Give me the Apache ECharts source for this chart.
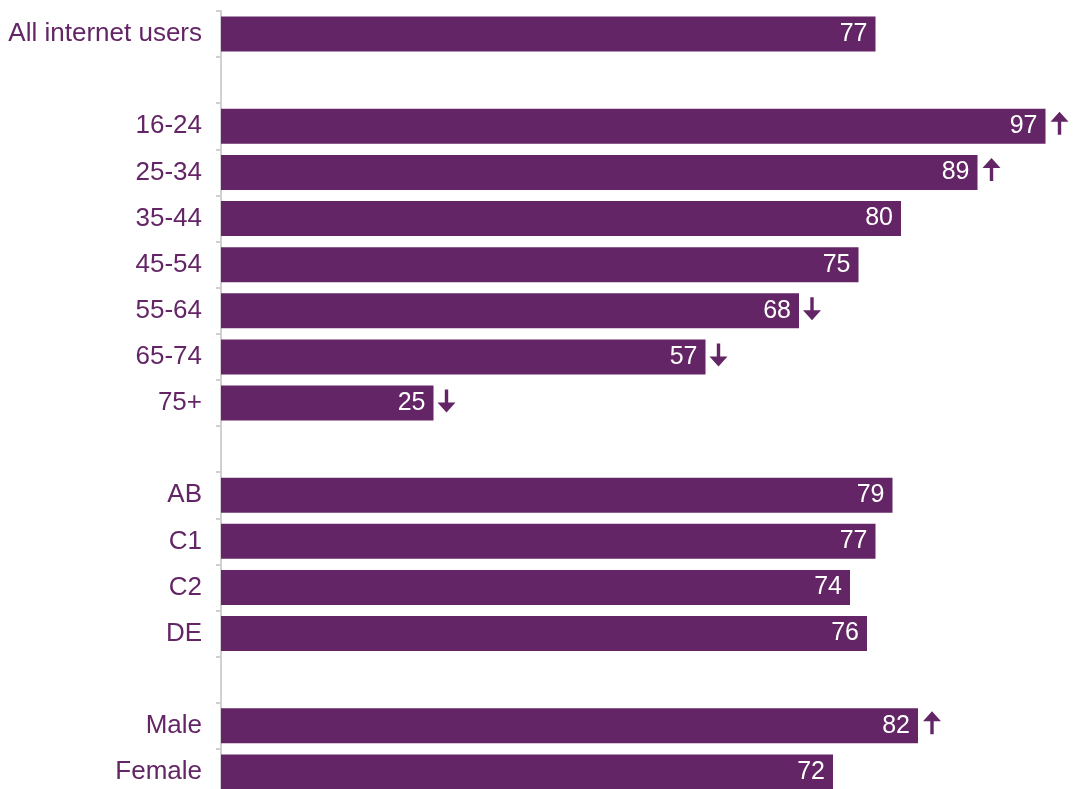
<!DOCTYPE html>
<html>
<head>
<meta charset="utf-8">
<script src="https://cdn.jsdelivr.net/npm/echarts@6/dist/echarts.min.js"></script>
<style>html,body{margin:0;padding:0;background:#fff}#c{width:1074px;height:789px}</style>
</head>
<body>
<div id="c"></div>
<script>
const categories = ['All internet users','', '16-24','25-34','35-44','45-54','55-64','65-74','75+','', 'AB','C1','C2','DE','', 'Male','Female'];
const values = [77, null, 97, 89, 80, 75, 68, 57, 25, null, 79, 77, 74, 76, null, 82, 72];
const significance = ['', '', 'up', 'up', '', '', 'down', 'down', 'down', '', '', '', '', '', '', 'up', ''];

const purple = '#632565';
const upPath = 'path://M9,0 L18,10 L10.7,10 L10.7,23 L7.3,23 L7.3,10 L0,10 Z';
const downPath = 'path://M9,23 L18,13 L10.7,13 L10.7,0 L7.3,0 L7.3,13 L0,13 Z';

const upData = [], downData = [];
significance.forEach((s, i) => {
  if (s === 'up') upData.push([values[i], i]);
  if (s === 'down') downData.push([values[i], i]);
});

const chart = echarts.init(document.getElementById('c'), null, {renderer: 'canvas'});
chart.setOption({
  animation: false,
  grid: {left: 221, width: 850, top: 11, height: 784, containLabel: false, outerBoundsMode: 'none'},
  xAxis: {type: 'value', min: 0, max: 100, show: false},
  yAxis: {
    type: 'category', data: categories, inverse: true,
    axisLine: {show: true, lineStyle: {color: '#d0d0d0', width: 2}},
    axisTick: {show: true, length: 5, lineStyle: {color: '#d0d0d0', width: 2}},
    axisLabel: {color: purple, fontSize: 26, fontFamily: 'Liberation Sans, Arial, sans-serif', margin: 19},
    splitLine: {show: false}
  },
  series: [
    {
      type: 'bar', data: values, barWidth: 35, itemStyle: {color: purple},
      label: {show: true, position: 'insideRight', distance: 8, color: '#fff', fontSize: 25, fontFamily: 'Liberation Sans, Arial, sans-serif'},
      z: 2
    },
    {
      type: 'scatter', data: upData, symbol: upPath, symbolSize: [18, 23], symbolOffset: [14, -3],
      itemStyle: {color: purple, opacity: 1}, silent: true, z: 3
    },
    {
      type: 'scatter', data: downData, symbol: downPath, symbolSize: [18, 23], symbolOffset: [13, -2],
      itemStyle: {color: purple, opacity: 1}, silent: true, z: 3
    }
  ]
});
</script>
</body>
</html>
